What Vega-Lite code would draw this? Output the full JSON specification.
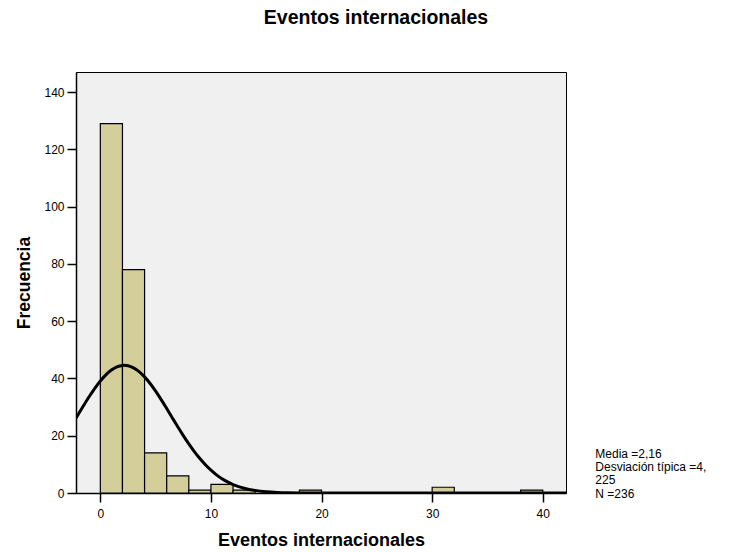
{
  "$schema": "https://vega.github.io/schema/vega-lite/v6.json",
  "width": 490,
  "height": 421,
  "autosize": "none",
  "padding": {"left": 76, "top": 72, "right": 166, "bottom": 59},
  "background": "white",
  "config": {
    "font": "Liberation Sans",
    "view": {"fill": "#f0f0f0", "stroke": "black", "strokeWidth": 1}
  },
  "title": {
    "text": "Eventos internacionales",
    "fontSize": 19.5,
    "fontWeight": "bold",
    "font": "Liberation Sans",
    "anchor": "middle",
    "dx": 55,
    "offset": 44,
    "color": "black"
  },
  "datasets": {
    "bins": [
      {"bin_start": 0, "bin_end": 2, "count": 129},
      {"bin_start": 2, "bin_end": 4, "count": 78},
      {"bin_start": 4, "bin_end": 6, "count": 14},
      {"bin_start": 6, "bin_end": 8, "count": 6},
      {"bin_start": 8, "bin_end": 10, "count": 1},
      {"bin_start": 10, "bin_end": 12, "count": 3},
      {"bin_start": 12, "bin_end": 14, "count": 1},
      {"bin_start": 18, "bin_end": 20, "count": 1},
      {"bin_start": 30, "bin_end": 32, "count": 2},
      {"bin_start": 38, "bin_end": 40, "count": 1}
    ],
    "curve": [
      {"x": -2.2, "y": 26.17}, {"x": -2, "y": 27.45}, {"x": -1.5, "y": 30.62},
      {"x": -1, "y": 33.69}, {"x": -0.5, "y": 36.55}, {"x": 0, "y": 39.11},
      {"x": 0.5, "y": 41.26}, {"x": 1, "y": 42.92}, {"x": 1.5, "y": 44.03},
      {"x": 2, "y": 44.54}, {"x": 2.16, "y": 44.57}, {"x": 2.5, "y": 44.42},
      {"x": 3, "y": 43.70}, {"x": 3.5, "y": 42.38}, {"x": 4, "y": 40.54},
      {"x": 4.5, "y": 38.23}, {"x": 5, "y": 35.56}, {"x": 5.5, "y": 32.61},
      {"x": 6, "y": 29.49}, {"x": 6.5, "y": 26.30}, {"x": 7, "y": 23.12},
      {"x": 7.5, "y": 20.05}, {"x": 8, "y": 17.14}, {"x": 8.5, "y": 14.46},
      {"x": 9, "y": 12.02}, {"x": 9.5, "y": 9.85}, {"x": 10, "y": 7.97},
      {"x": 10.5, "y": 6.35}, {"x": 11, "y": 4.99}, {"x": 11.5, "y": 3.87},
      {"x": 12, "y": 2.96}, {"x": 12.5, "y": 2.23}, {"x": 13, "y": 1.66},
      {"x": 14, "y": 0.88}, {"x": 15, "y": 0.44}, {"x": 16, "y": 0.21},
      {"x": 17, "y": 0.093}, {"x": 18, "y": 0.04}, {"x": 20, "y": 0.006},
      {"x": 25, "y": 0}, {"x": 30, "y": 0}, {"x": 42.1, "y": 0}
    ],
    "stats": [
      {"label": ["Media =2,16", "Desviación típica =4,", "225", "N =236"]}
    ]
  },
  "layer": [
    {
      "data": {"name": "bins"},
      "mark": {"type": "bar", "fill": "#d3ce9a", "stroke": "black", "strokeWidth": 1.2},
      "encoding": {
        "x": {
          "field": "bin_start",
          "type": "quantitative",
          "scale": {"domain": [-2.2, 42.1], "nice": false, "zero": false},
          "axis": {
            "values": [0, 10, 20, 30, 40],
            "title": "Eventos internacionales",
            "titleFontSize": 18,
            "titleFontWeight": "bold",
            "titleColor": "black",
            "titlePadding": 12,
            "labelFontSize": 12,
            "labelColor": "black",
            "labelPadding": 6,
            "tickSize": 9,
            "tickColor": "black",
            "tickWidth": 1.5,
            "domainColor": "black",
            "domainWidth": 1.5,
            "grid": false,
            "labelFont": "Liberation Sans",
            "titleFont": "Liberation Sans"
          }
        },
        "x2": {"field": "bin_end"},
        "y": {
          "field": "count",
          "type": "quantitative",
          "scale": {"domain": [0, 147], "nice": false},
          "axis": {
            "values": [0, 20, 40, 60, 80, 100, 120, 140],
            "title": "Frecuencia",
            "titleFontSize": 17.5,
            "titleFontWeight": "bold",
            "titleColor": "black",
            "titlePadding": 10,
            "labelFontSize": 12,
            "labelColor": "black",
            "labelPadding": 3,
            "tickSize": 9,
            "tickColor": "black",
            "tickWidth": 1.5,
            "domainColor": "black",
            "domainWidth": 1.5,
            "grid": false,
            "labelFont": "Liberation Sans",
            "titleFont": "Liberation Sans"
          }
        },
        "y2": {"datum": 0}
      }
    },
    {
      "data": {"name": "curve"},
      "mark": {"type": "line", "color": "black", "strokeWidth": 3, "clip": true, "interpolate": "monotone"},
      "encoding": {
        "x": {"field": "x", "type": "quantitative"},
        "y": {"field": "y", "type": "quantitative"}
      }
    },
    {
      "data": {"name": "stats"},
      "mark": {"type": "text", "align": "left", "baseline": "top", "fontSize": 12, "lineHeight": 13.3, "font": "Liberation Sans", "color": "black", "clip": false},
      "encoding": {
        "x": {"datum": 44.75, "type": "quantitative"},
        "y": {"datum": 15.4, "type": "quantitative"},
        "text": {"field": "label"}
      }
    }
  ]
}
